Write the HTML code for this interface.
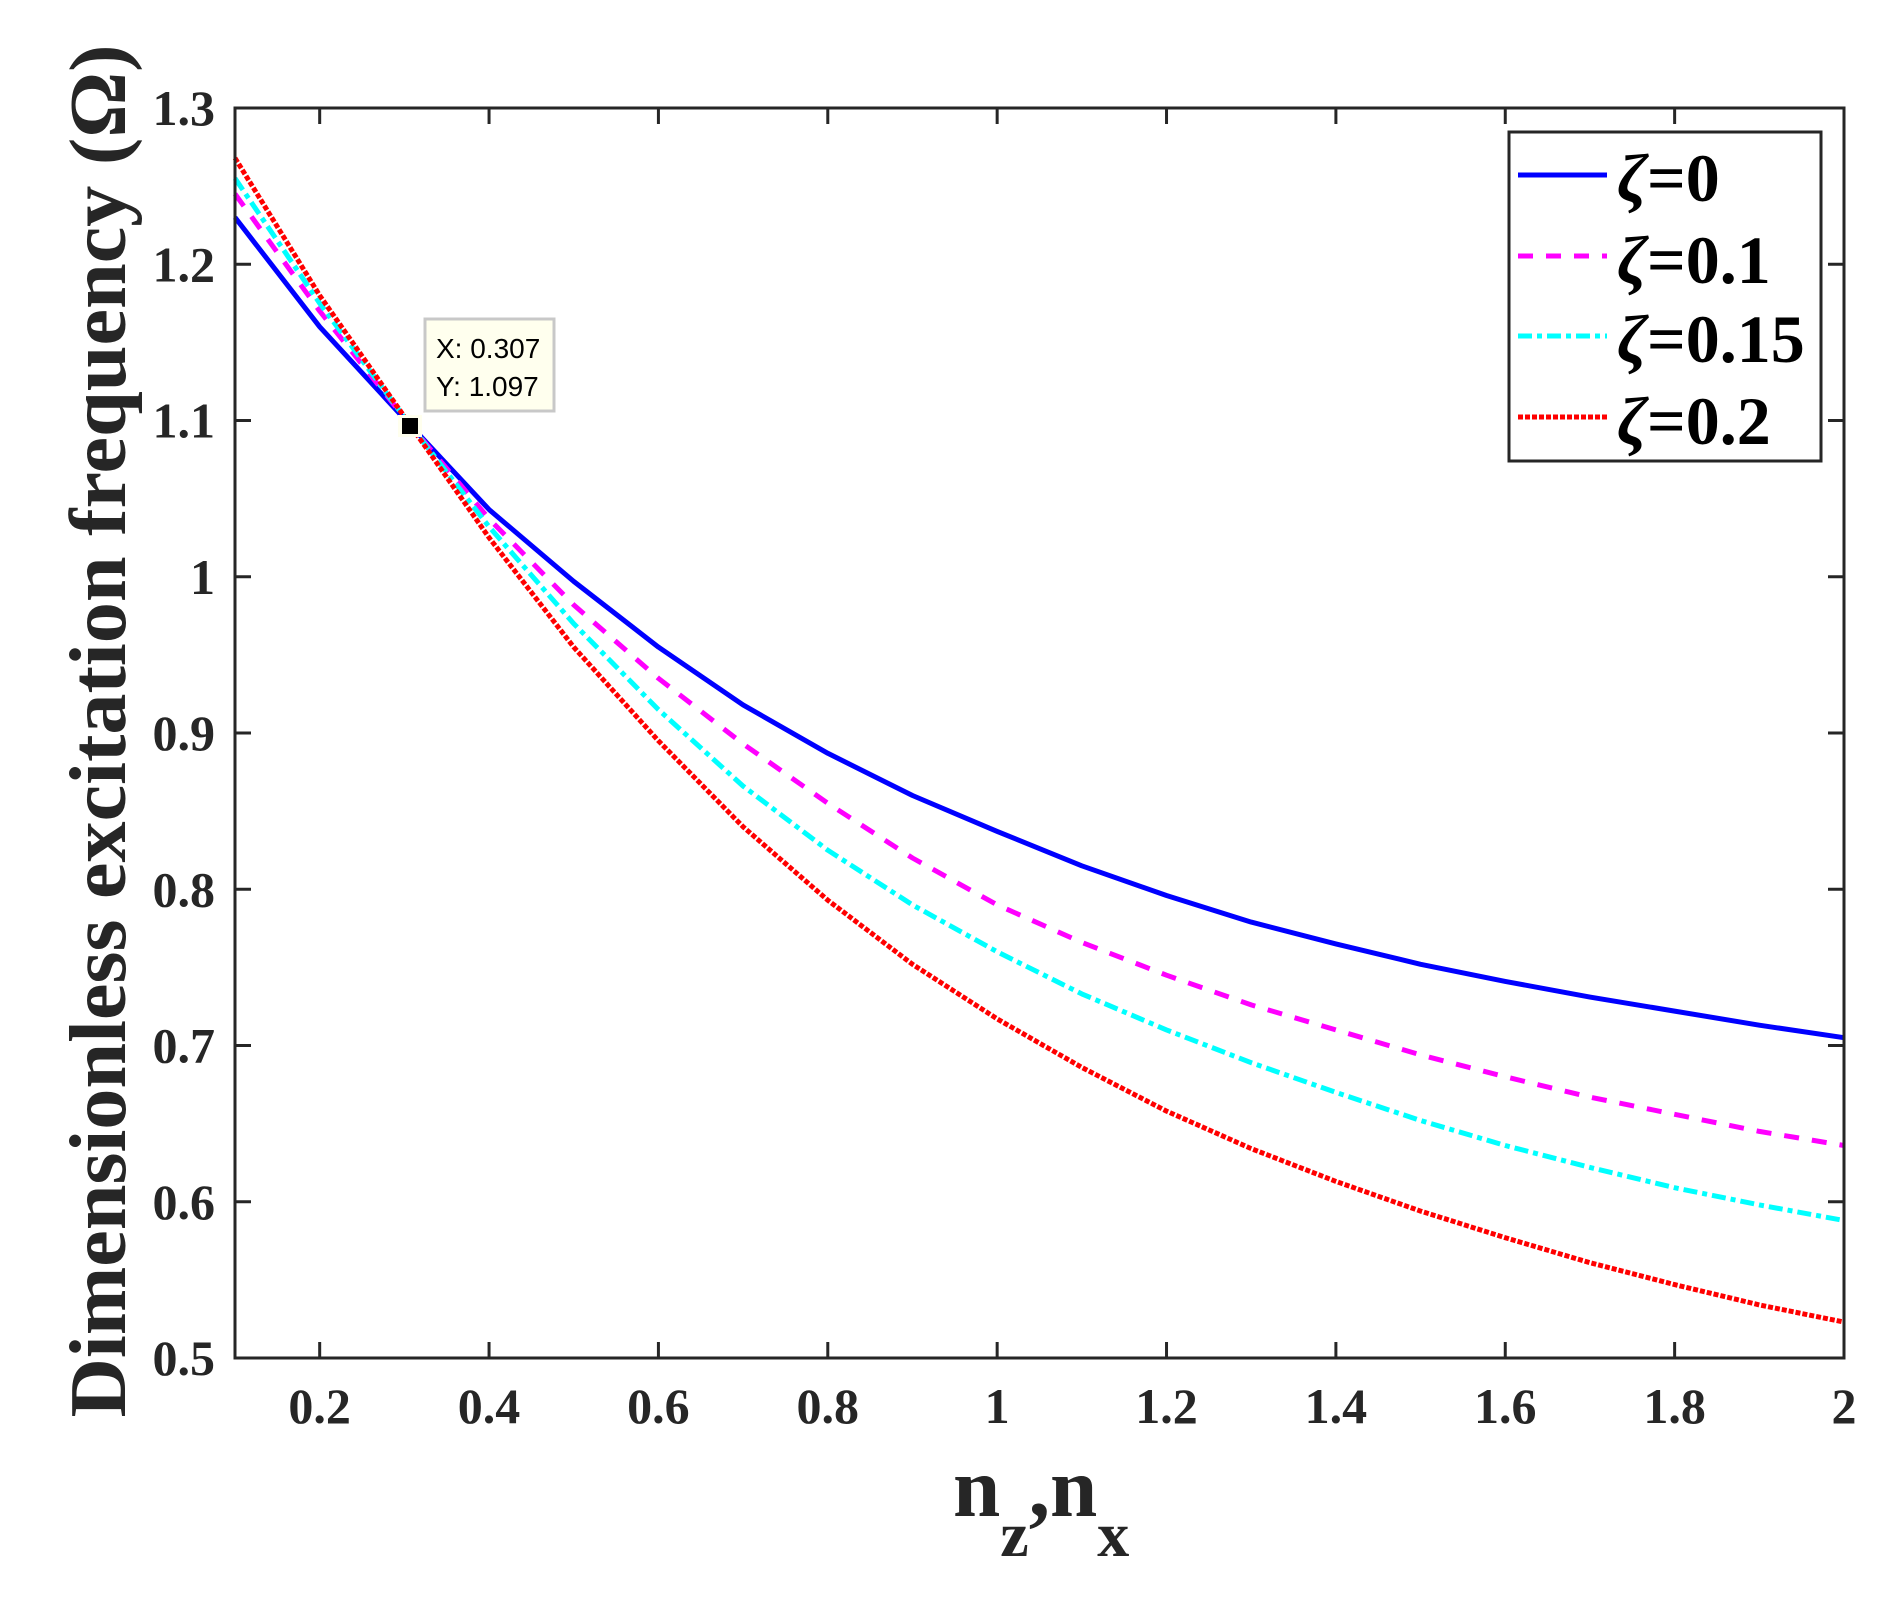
<!DOCTYPE html>
<html><head><meta charset="utf-8"><style>
html,body{margin:0;padding:0;background:#fff;}
svg{display:block;}
.t{font-family:"Liberation Serif",serif;font-weight:bold;fill:#262626;}
</style></head><body>
<svg id="s" width="1902" height="1599" viewBox="0 0 1902 1599" xmlns="http://www.w3.org/2000/svg">
<rect x="0" y="0" width="1902" height="1599" fill="#fff"/>
<g id="ticks" stroke="#262626" stroke-width="3"></g>
<g id="labels" class="t" font-size="50"></g>
<g id="curves" fill="none" stroke-width="5"></g>
<rect x="235" y="108" width="1609" height="1250" fill="none" stroke="#262626" stroke-width="3"/>
<!-- datatip -->
<rect x="425" y="319" width="129" height="92" fill="#ffffee" stroke="#c8c8c8" stroke-width="3"/>
<text x="436" y="358" font-family="Liberation Sans,sans-serif" font-size="28" fill="#000">X: 0.307</text>
<text x="436" y="396" font-family="Liberation Sans,sans-serif" font-size="28" fill="#000">Y: 1.097</text>
<rect x="398" y="415" width="24" height="22" fill="#ffffee"/>
<rect x="402" y="418" width="16" height="16" fill="#000"/>
<!-- legend -->
<rect x="1509" y="132" width="312" height="329" fill="#fff" stroke="#262626" stroke-width="3"/>
<line x1="1518" y1="175" x2="1607" y2="175" stroke="#0000ff" stroke-width="5"/>
<line x1="1518" y1="256" x2="1607" y2="256" stroke="#ff00ff" stroke-width="5" stroke-dasharray="15 13"/>
<line x1="1518" y1="336" x2="1607" y2="336" stroke="#00ffff" stroke-width="5" stroke-dasharray="14 5 5 5"/>
<line x1="1518" y1="417" x2="1607" y2="417" stroke="#ff0000" stroke-width="5" stroke-dasharray="5 2"/>
<g font-family="Liberation Serif,serif" font-weight="bold" font-size="68" fill="#000">
<text x="1617" y="201"><tspan font-style="italic">ζ</tspan>=0</text>
<text x="1617" y="283"><tspan font-style="italic">ζ</tspan>=0.1</text>
<text x="1617" y="362"><tspan font-style="italic">ζ</tspan>=0.15</text>
<text x="1617" y="444"><tspan font-style="italic">ζ</tspan>=0.2</text>
</g>
<!-- axis labels -->
<text class="t" x="0" y="0" font-size="80" transform="translate(125,731) rotate(-90)" text-anchor="middle" textLength="1373" lengthAdjust="spacingAndGlyphs">Dimensionless excitation frequency (Ω)</text>
<text class="t" x="953" y="1516" font-size="85">n<tspan font-size="64" dy="40">z</tspan><tspan dy="-40">,n</tspan><tspan font-size="64" dy="40">x</tspan></text>
</svg>
<script>
var X=function(v){return 235+(v-0.1)*1609/1.9;},Y=function(v){return 1358-(v-0.5)*1562.5;};
var ns="http://www.w3.org/2000/svg";
var tk=document.getElementById('ticks'),lb=document.getElementById('labels'),cv=document.getElementById('curves');
function el(p,n,a,t){var e=document.createElementNS(ns,n);for(var k in a)e.setAttribute(k,a[k]);if(t)e.textContent=t;p.appendChild(e);return e;}
var xs=[0.2,0.4,0.6,0.8,1,1.2,1.4,1.6,1.8,2];
xs.forEach(function(v){var x=X(v);el(tk,'line',{x1:x,y1:1358,x2:x,y2:1342});el(tk,'line',{x1:x,y1:108,x2:x,y2:124});
el(lb,'text',{x:x,y:1423,'text-anchor':'middle'},(v==1||v==2)?String(v):v.toFixed(1));});
[0.5,0.6,0.7,0.8,0.9,1,1.1,1.2,1.3].forEach(function(v){var y=Y(v);el(tk,'line',{x1:235,y1:y,x2:251,y2:y});el(tk,'line',{x1:1844,y1:y,x2:1828,y2:y});
el(lb,'text',{x:215,y:y+17,'text-anchor':'end'},(v==1)?'1':v.toFixed(1));});
var xp=[0.1,0.2,0.307,0.4,0.5,0.6,0.7,0.8,0.9,1.0,1.1,1.2,1.3,1.4,1.5,1.6,1.7,1.8,1.9,2.0];
var D=[
["#0000ff","",[1.23,1.16,1.097,1.043,0.997,0.955,0.918,0.887,0.86,0.837,0.815,0.796,0.779,0.765,0.752,0.741,0.731,0.722,0.713,0.705]],
["#ff00ff","15 13",[1.245,1.17,1.097,1.037,0.982,0.935,0.893,0.855,0.82,0.79,0.766,0.745,0.726,0.71,0.694,0.68,0.667,0.656,0.645,0.636]],
["#00ffff","14 5 5 5",[1.255,1.175,1.097,1.032,0.97,0.915,0.866,0.825,0.79,0.76,0.733,0.71,0.689,0.67,0.652,0.636,0.622,0.609,0.598,0.588]],
["#ff0000","5 2",[1.268,1.18,1.097,1.025,0.955,0.895,0.84,0.793,0.752,0.717,0.686,0.658,0.634,0.613,0.594,0.577,0.561,0.547,0.534,0.523]]];
D.forEach(function(d){var pts=[];
for(var i=0;i<xp.length;i++){pts.push(X(xp[i]).toFixed(1)+','+Y(d[2][i]).toFixed(1));}
var a={points:pts.join(' '),stroke:d[0],'stroke-linejoin':'round'};if(d[1])a['stroke-dasharray']=d[1];el(cv,'polyline',a);});
</script>
</body></html>
